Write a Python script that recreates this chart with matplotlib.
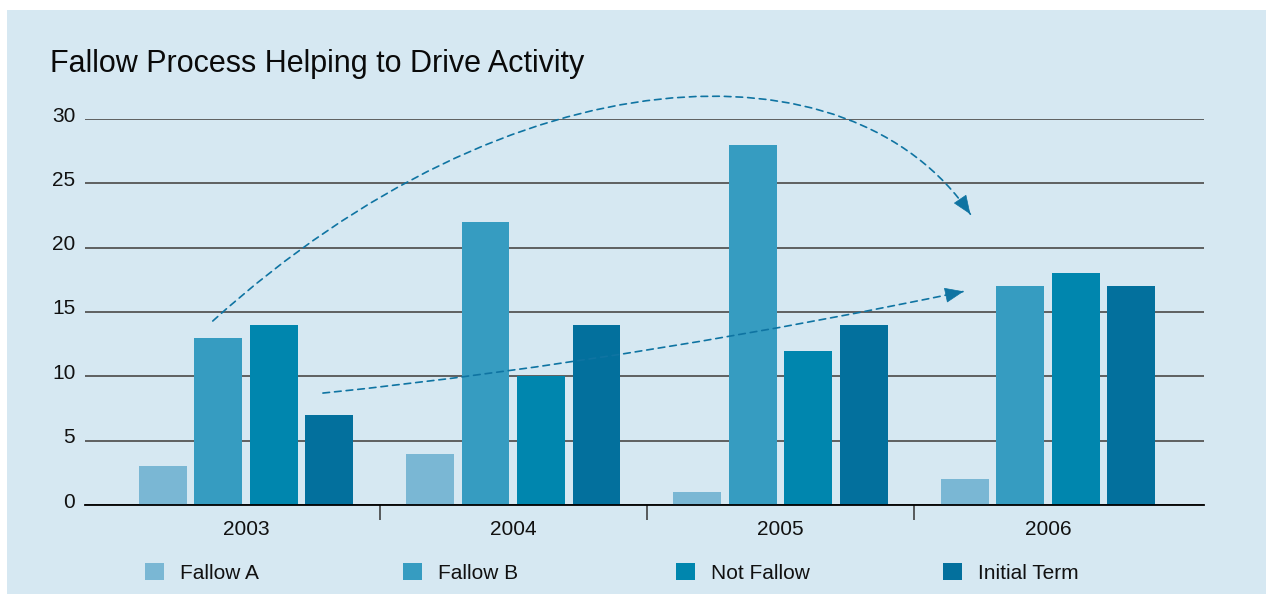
import matplotlib.pyplot as plt
import numpy as np
from matplotlib.legend import Legend
from matplotlib.patches import FancyArrowPatch, Rectangle
from matplotlib.path import Path
from matplotlib.transforms import ScaledTranslation

years = ["2003", "2004", "2005", "2006"]
series_names = ["Fallow A", "Fallow B", "Not Fallow", "Initial Term"]
fallow_a = [3, 4, 1, 2]
fallow_b = [13, 22, 28, 17]
not_fallow = [14, 10, 12, 18]
initial_term = [7, 14, 14, 17]
y_ticks = [0, 5, 10, 15, 20, 25, 30]

colors = ["#7ab7d4", "#369cc1", "#0086ae", "#03709d"]
panel_color = "#d6e8f2"
arrow_color = "#0f74a2"

plt.rcParams["font.family"] = ["Liberation Sans", "DejaVu Sans"]

W, H = 1266, 595
fig = plt.figure(figsize=(W / 100, H / 100), dpi=100)
fig.patches.append(
    Rectangle((7 / W, 1 / H), 1 - 7 / W, 584 / H, transform=fig.transFigure,
              facecolor=panel_color, edgecolor="none", zorder=-5)
)
ax = fig.add_axes([85 / W, 90 / H, 1119 / W, 386 / H])
ax.set_facecolor("none")

x = np.arange(len(years))
pitch = 0.2075
width = 0.179
series = [fallow_a, fallow_b, not_fallow, initial_term]
bars = []
for i, (name, values, color) in enumerate(zip(series_names, series, colors)):
    b = ax.bar(x + (i - 1.5) * pitch, values, width, color=color, label=name, zorder=2)
    bars.append(b)

ax.set_xlim(-0.602, 3.584)
ax.set_ylim(0, 30)

for side in ["left", "right", "top"]:
    ax.spines[side].set_visible(False)
ax.spines["bottom"].set_color("black")
ax.spines["bottom"].set_linewidth(1.3)
ax.spines["bottom"].set_zorder(3)

ax.set_yticks(y_ticks)
ax.yaxis.grid(True, color="#555555", linewidth=1.3)
ax.set_axisbelow(True)
ax.tick_params(axis="y", length=0, pad=7, labelsize=15, labelcolor="#111111")
offset = ScaledTranslation(0, 0.05, fig.dpi_scale_trans)
for label in ax.get_yticklabels():
    label.set_transform(label.get_transform() + offset)

ax.set_xticks(x[:-1] + 0.5)
ax.set_xticklabels([])
ax.set_xticks(x, years, minor=True)
ax.tick_params(axis="x", which="major", length=11, width=1.1, color="#333333")
ax.tick_params(axis="x", which="minor", length=0, pad=10.5, labelsize=15, labelcolor="#111111")

# dashed arrows: dashed curve + solid head
curve_codes = [Path.MOVETO, Path.CURVE4, Path.CURVE4, Path.CURVE4]
arc_pts = [(-0.124, 14.3), (1.0, 35.4), (2.26, 36.4), (2.71, 22.6)]
trend_pts = [(0.288, 8.7), (1.137, 10.5), (1.998, 13.6), (2.685, 16.6)]
for pts in [arc_pts, trend_pts]:
    line = FancyArrowPatch(
        path=Path(pts, curve_codes),
        arrowstyle="-",
        color=arrow_color,
        linewidth=1.2,
        linestyle=(0, (4, 3)),
        transform=ax.transData,
        clip_on=False,
        zorder=4,
    )
    ax.add_patch(line)
    (x2, y2), (x3, y3) = pts[2], pts[3]
    ax.annotate(
        "", xy=(x3, y3), xytext=(x3 - 0.05 * (x3 - x2), y3 - 0.05 * (y3 - y2)),
        arrowprops=dict(arrowstyle="-|>,head_length=0.62,head_width=0.25",
                        mutation_scale=20, color=arrow_color, linewidth=0.5,
                        shrinkA=0, shrinkB=0),
        annotation_clip=False, zorder=5,
    )

fig.text(50 / W, 1 - 72 / H, "Fallow Process Helping to Drive Activity",
         fontsize=22, ha="left", va="baseline", color="#0a0a0a")

legend_left = [145, 403, 676, 943]
for b, name, left in zip(bars, series_names, legend_left):
    leg = Legend(
        ax, [b], [name],
        loc="center left", bbox_to_anchor=(left / W, 22 / H),
        bbox_transform=fig.transFigure,
        frameon=False, fontsize=15,
        handlelength=0.91, handleheight=0.91, handletextpad=0.77,
        borderpad=0, borderaxespad=0,
    )
    for t in leg.get_texts():
        t.set_color("#111111")
    ax.add_artist(leg)

fig.savefig("out.png", dpi=100)
